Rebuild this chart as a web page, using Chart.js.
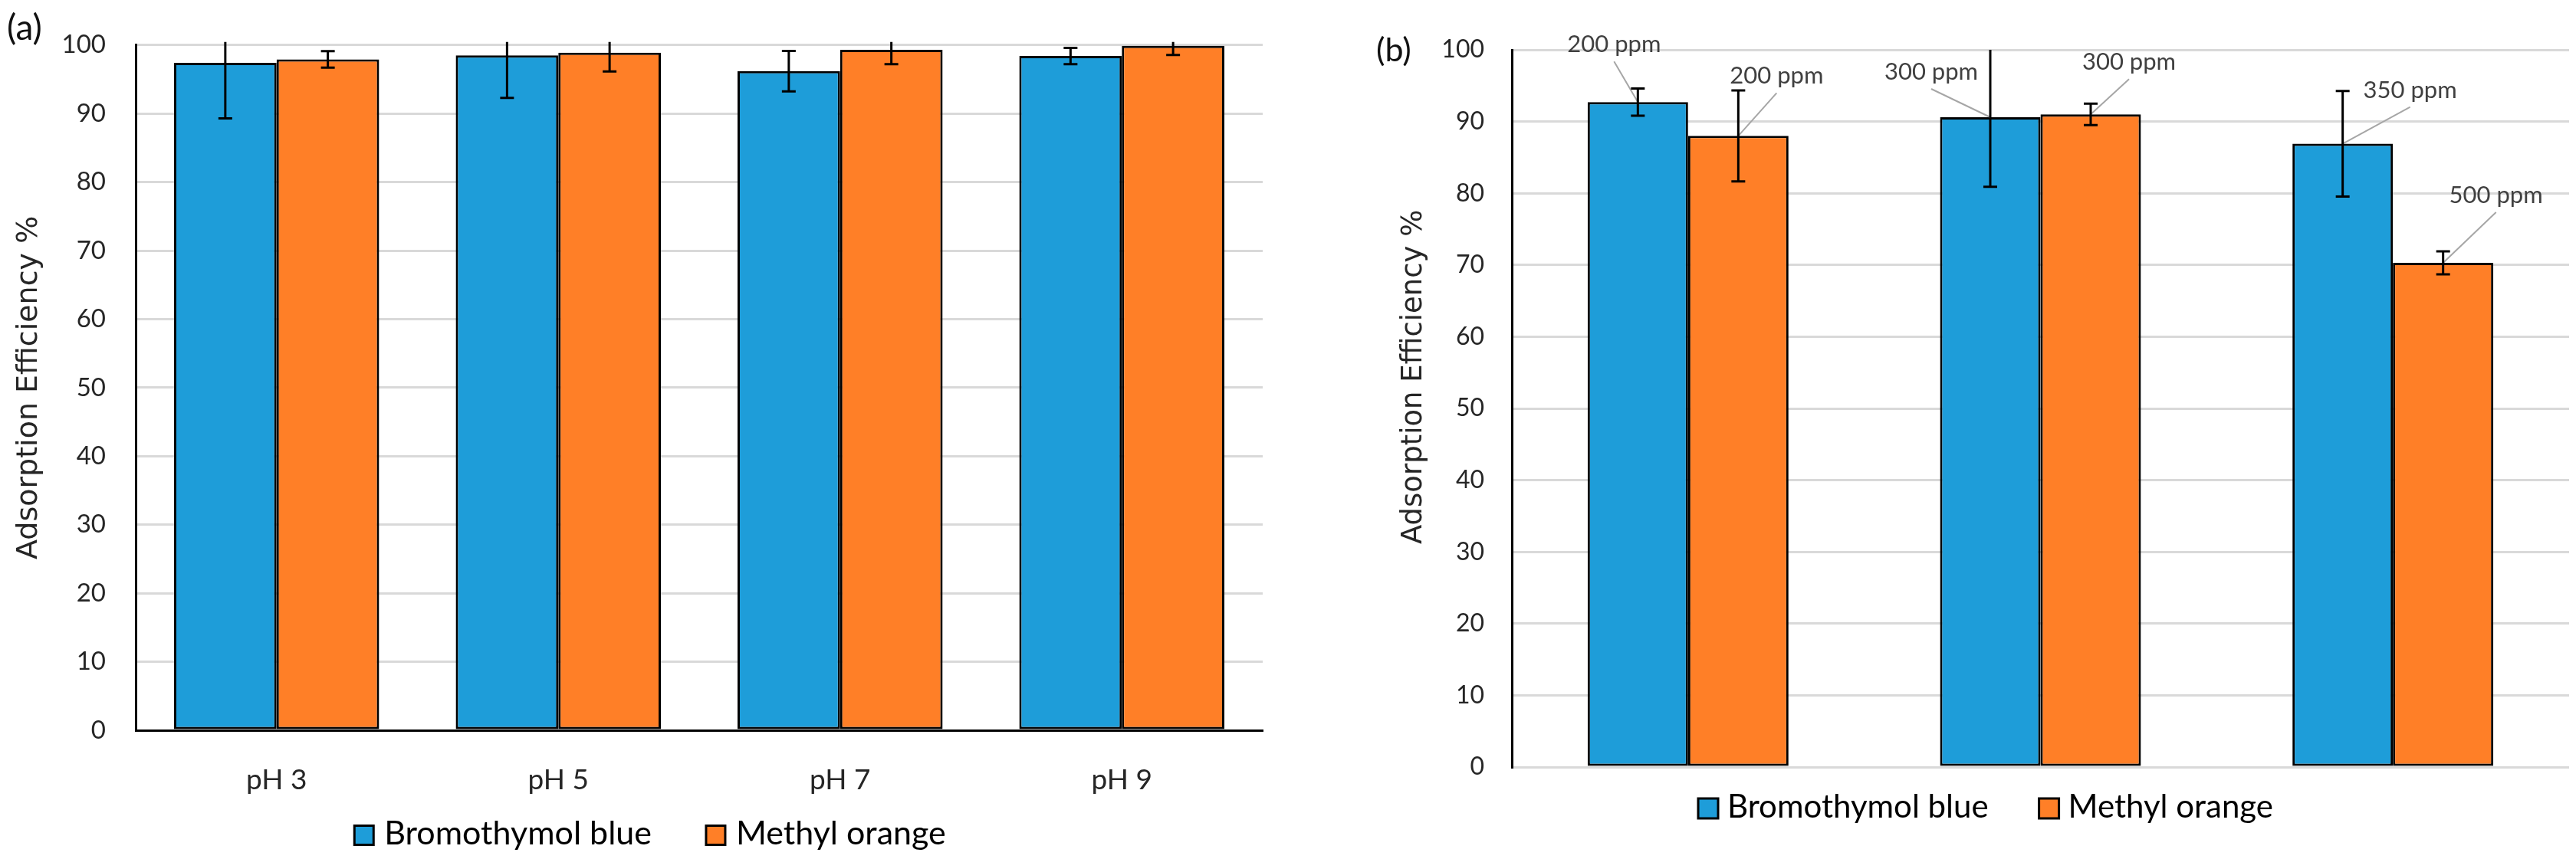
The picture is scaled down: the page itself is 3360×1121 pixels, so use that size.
<!DOCTYPE html>
<html>
<head>
<meta charset="utf-8">
<title>Adsorption efficiency</title>
<script src="https://cdn.jsdelivr.net/npm/chart.js@4.4.1/dist/chart.umd.min.js"></script>
<style>
  html, body { margin: 0; padding: 0; background: #fff; }
  #page { position: relative; width: 3360px; height: 1121px; overflow: hidden; }
  canvas { position: absolute; top: 0; }
  #chartA { left: 0; }
  #chartB { left: 1690px; }
  .panel-tag { position: absolute; font-family: Lato, sans-serif; color: #111; line-height: 1; }
</style>
</head>
<body>
<div id="page">
  <canvas id="chartA" width="1680" height="1121"></canvas>
  <canvas id="chartB" width="1670" height="1121"></canvas>
  <div class="panel-tag" style="left:9px; top:12px; font-size:46px;">(a)</div>
  <div class="panel-tag" style="left:1795px; top:42px; font-size:43px;">(b)</div>
</div>
<script>
/* DATA */
const seriesNames = ['Bromothymol blue', 'Methyl orange'];

// (a) effect of pH
const phLabels = ['pH 3', 'pH 5', 'pH 7', 'pH 9'];
const bromoPh = [97.4, 98.5, 96.2, 98.4];
const bromoPhErr = [8.1, 6.2, 2.95, 1.2];
const orangePh = [97.9, 98.9, 99.3, 99.9];
const orangePhErr = [1.2, 2.75, 2.1, 1.35];

// (b) effect of initial concentration
const doseGroups = ['', '', ''];
const bromoDose = [92.7, 90.6, 86.9];
const bromoDoseErr = [1.9, 9.7, 7.35];
const orangeDose = [88.0, 91.0, 70.3];
const orangeDoseErr = [6.35, 1.5, 1.6];
const bromoConc = ['200 ppm', '300 ppm', '350 ppm'];
const orangeConc = ['200 ppm', '300 ppm', '500 ppm'];

// y axis range
const yMin = 0;
const yMax = 100;
const yStep = 10;

/*****************************************************************/

/* STYLE */
const BLUE = '#1e9dd9';
const ORANGE = '#ff7f27';
const GRID = '#d9d9d9';
const TEXT = '#262626';

// where each concentration label sits, relative to the top of its bar
const bromoConcOffset = [[-31, -65], [-77, -49], [88, -60]];
const orangeConcOffset = [[50, -68], [50, -58], [69, -78]];

/*****************************************************************/

/* PLUGINS */
// Error bars, read from dataset.errors
const errorBars = {
    id: 'errorBars',
    afterDatasetsDraw(chart, args, opts) {
        const { ctx, chartArea, scales: { y } } = chart;
        ctx.save();
        // Excel cuts the whiskers at the plot area
        ctx.beginPath();
        ctx.rect(chartArea.left, chartArea.top - opts.overshoot, chartArea.width, chartArea.height + opts.overshoot);
        ctx.clip();
        ctx.strokeStyle = '#000';
        ctx.lineWidth = 3;
        chart.data.datasets.forEach((ds, i) => {
            chart.getDatasetMeta(i).data.forEach((bar, j) => {
                const v = ds.data[j];
                const e = ds.errors[j];
                const hi = y.getPixelForValue(v + e);
                const lo = y.getPixelForValue(v - e);
                const cap = opts.cap;
                ctx.beginPath();
                ctx.moveTo(bar.x, hi);
                ctx.lineTo(bar.x, lo);
                ctx.moveTo(bar.x - cap, hi);
                ctx.lineTo(bar.x + cap, hi);
                ctx.moveTo(bar.x - cap, lo);
                ctx.lineTo(bar.x + cap, lo);
                ctx.stroke();
            });
        });
        ctx.restore();
    }
};

// Concentration call-outs with a grey leader line
const doseNotes = {
    id: 'doseNotes',
    afterDatasetsDraw(chart, args, opts) {
        const ctx = chart.ctx;
        ctx.save();
        ctx.font = opts.font;
        ctx.textAlign = 'center';
        ctx.textBaseline = 'alphabetic';
        chart.data.datasets.forEach((ds, i) => {
            chart.getDatasetMeta(i).data.forEach((bar, j) => {
                const [dx, dy] = ds.noteOffsets[j];
                const tx = bar.x + dx;
                const ty = bar.y + dy;
                ctx.strokeStyle = '#a6a6a6';
                ctx.lineWidth = 2;
                ctx.beginPath();
                ctx.moveTo(tx, ty + opts.leadGap);
                ctx.lineTo(bar.x, bar.y);
                ctx.stroke();
                ctx.fillStyle = '#404040';
                ctx.fillText(ds.notes[j], tx, ty);
            });
        });
        ctx.restore();
    }
};

// Legend row under the plot (box, gap, name)
const keyRow = {
    id: 'keyRow',
    afterDraw(chart, args, opts) {
        const ctx = chart.ctx;
        ctx.save();
        ctx.font = opts.font;
        ctx.textBaseline = 'middle';
        ctx.textAlign = 'left';
        const items = chart.data.datasets.map(ds => ({
            text: ds.label,
            color: ds.backgroundColor,
            w: ctx.measureText(ds.label).width
        }));
        const total = items.reduce((s, it) => s + opts.box + opts.textGap + it.w, 0) + opts.itemGap * (items.length - 1);
        let x = opts.centerX - total / 2;
        items.forEach(it => {
            ctx.fillStyle = it.color;
            ctx.fillRect(x, opts.y - opts.box / 2, opts.box, opts.box);
            ctx.strokeStyle = '#000';
            ctx.lineWidth = 3;
            ctx.strokeRect(x, opts.y - opts.box / 2, opts.box, opts.box);
            x += opts.box + opts.textGap;
            ctx.fillStyle = '#000';
            ctx.fillText(it.text, x, opts.y - 2);
            x += it.w + opts.itemGap;
        });
        ctx.restore();
    }
};

/*****************************************************************/

/* CHART (a) */
new Chart(document.getElementById('chartA').getContext('2d'), {
    type: 'bar',
    data: {
        labels: phLabels,
        datasets: [{
            label: seriesNames[0],
            data: bromoPh,
            errors: bromoPhErr,
            backgroundColor: BLUE,
            borderColor: '#000',
            borderWidth: 3,
            borderSkipped: false,
            barPercentage: 1,
            categoryPercentage: 0.728
        }, {
            label: seriesNames[1],
            data: orangePh,
            errors: orangePhErr,
            backgroundColor: ORANGE,
            borderColor: '#000',
            borderWidth: 3,
            borderSkipped: false,
            barPercentage: 1,
            categoryPercentage: 0.728
        }]
    },
    options: {
        responsive: false,
        devicePixelRatio: 1,
        animation: false,
        layout: { padding: { left: 0, top: 57, right: 33, bottom: 48 } },
        scales: {
            x: {
                ticks: { padding: 43, color: TEXT, font: { family: 'Lato', size: 37 } },
                grid: { display: false, drawTicks: false },
                border: { display: true, color: '#000', width: 3 },
                afterFit(scale) { scale.height = 120; }
            },
            y: {
                min: yMin,
                max: yMax,
                ticks: { stepSize: yStep, padding: 39, color: TEXT, font: { family: 'Lato', size: 33 } },
                grid: {
                    color: c => c.tick && c.tick.value === 0 ? '#000' : GRID,
                    lineWidth: 3,
                    drawTicks: false
                },
                border: { display: true, color: '#000', width: 3 },
                title: {
                    display: true,
                    text: 'Adsorption Efficiency %',
                    color: TEXT,
                    font: { family: 'DejaVu Sans', size: 38 },
                    padding: { top: 15, bottom: 0 }
                },
                afterFit(scale) { scale.width = 177; }
            }
        },
        plugins: {
            legend: { display: false },
            tooltip: { enabled: false },
            errorBars: { overshoot: 4, cap: 9 },
            keyRow: { font: '43px Lato', box: 25, textGap: 14, itemGap: 71, centerX: 848, y: 1090 }
        }
    },
    plugins: [errorBars, keyRow]
});

/*****************************************************************/

/* CHART (b) */
new Chart(document.getElementById('chartB').getContext('2d'), {
    type: 'bar',
    data: {
        labels: doseGroups,
        datasets: [{
            label: seriesNames[0],
            data: bromoDose,
            errors: bromoDoseErr,
            notes: bromoConc,
            noteOffsets: bromoConcOffset,
            backgroundColor: BLUE,
            borderColor: '#000',
            borderWidth: 3,
            borderSkipped: false,
            barPercentage: 1,
            categoryPercentage: 0.57
        }, {
            label: seriesNames[1],
            data: orangeDose,
            errors: orangeDoseErr,
            notes: orangeConc,
            noteOffsets: orangeConcOffset,
            backgroundColor: ORANGE,
            borderColor: '#000',
            borderWidth: 3,
            borderSkipped: false,
            barPercentage: 1,
            categoryPercentage: 0.57
        }]
    },
    options: {
        responsive: false,
        devicePixelRatio: 1,
        animation: false,
        layout: { padding: { left: 0, top: 65, right: 9, bottom: 100 } },
        scales: {
            x: {
                ticks: { display: false },
                grid: { display: false, drawTicks: false },
                border: { display: false },
                afterFit(scale) { scale.height = 20; }
            },
            y: {
                min: yMin,
                max: yMax,
                ticks: { stepSize: yStep, padding: 36, color: TEXT, font: { family: 'Lato', size: 32 } },
                grid: { color: GRID, lineWidth: 3, drawTicks: false },
                border: { display: true, color: '#000', width: 3 },
                title: {
                    display: true,
                    // leading spaces lift the title a little, as in the original
                    text: '\u00a0\u00a0\u00a0\u00a0\u00a0\u00a0\u00a0Adsorption Efficiency %',
                    color: TEXT,
                    font: { family: 'DejaVu Sans', size: 37 },
                    padding: { top: 132, bottom: 0 }
                },
                afterFit(scale) { scale.width = 282; }
            }
        },
        plugins: {
            legend: { display: false },
            tooltip: { enabled: false },
            errorBars: { overshoot: 0, cap: 9 },
            doseNotes: { font: '31px Lato', leadGap: 12 },
            keyRow: { font: '42px Lato', box: 26, textGap: 12, itemGap: 66, centerX: 900, y: 1055 }
        }
    },
    plugins: [doseNotes, errorBars, keyRow]
});
</script>
</body>
</html>
